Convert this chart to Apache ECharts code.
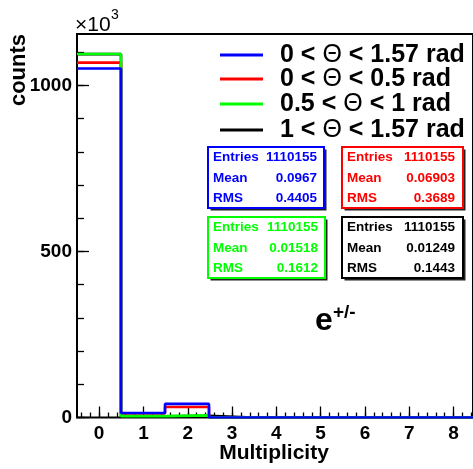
<!DOCTYPE html>
<html>
<head>
<meta charset="utf-8">
<script src="https://cdn.jsdelivr.net/npm/echarts@6/dist/echarts.min.js"></script>
<style>
  html, body { margin: 0; padding: 0; background: #fff; }
  #chart { width: 473px; height: 469px; }
</style>
</head>
<body>
<div id="chart"></div>
<script>
// Multiplicity bins (bin centres) and counts in units of 10^3
const multiplicity = [0, 1, 2, 3, 4, 5, 6, 7, 8, 9];
const thetaAll  = [1051, 13.5, 41, 0, 0, 0, 0, 0, 0, 0];   // 0 < Θ < 1.57 rad
const thetaLow  = [1069, 12, 31.5, 0, 0, 0, 0, 0, 0, 0];   // 0 < Θ < 0.5 rad
const thetaMid  = [1095, 4, 6.5, 0, 0, 0, 0, 0, 0, 0];     // 0.5 < Θ < 1 rad
const thetaHigh = [1094.5, 3.5, 5, 0, 0, 0, 0, 0, 0, 0];   // 1 < Θ < 1.57 rad

const legendLabels = ['0 < |Θ| < 1.57 rad', '0 < |Θ| < 0.5 rad', '0.5 < |Θ| < 1 rad', '1 < |Θ| < 1.57 rad'];
const seriesColors = ['#0000ff', '#ff0000', '#00ff00', '#000000'];

// Statistics boxes: entries, mean, RMS
const statEntries = ['1110155', '1110155', '1110155', '1110155'];
const statMean = ['0.0967', '0.06903', '0.01518', '0.01249'];
const statRms = ['0.4405', '0.3689', '0.1612', '0.1443'];

const yTickLabels = [0, 500, 1000];

// Histogram outline: one point per bin low edge, plus the last high edge
function stepData(counts) {
  const pts = multiplicity.map((c, i) => [c - 0.5, counts[i]]);
  pts.push([multiplicity[multiplicity.length - 1] + 0.5, counts[counts.length - 1]]);
  return pts;
}

const FONT = '"Liberation Sans", Arial, Helvetica, sans-serif';
const chart = echarts.init(document.getElementById('chart'), null, { renderer: 'canvas' });

const unit = 44.3;          // px per multiplicity unit
const plotLeft = 77;        // x of the left frame
const zeroY = 417.5;        // pixel row of zero counts
const perK = 0.332;         // px per 10^3 counts

function gridFor(xmin, xmax, ymax) {
  const left = plotLeft + (xmin + 0.5) * unit;
  const width = (xmax - xmin) * unit;
  return {
    left: left,
    width: width,
    top: zeroY - ymax * perK,
    height: ymax * perK
  };
}

const g0 = gridFor(-0.5, 8.5, 1155);
const g1 = gridFor(-0.4, 8.4, 1100);
const g2 = gridFor(0, 8, 1000);

const labelFont = { fontFamily: FONT, fontWeight: 'bold', fontSize: 19, color: '#000' };

const series = [
  { data: thetaHigh, color: seriesColors[3] },
  { data: thetaLow, color: seriesColors[1] },
  { data: thetaMid, color: seriesColors[2] },
  { data: thetaAll, color: seriesColors[0] }
].map(s => ({
  type: 'line',
  step: 'end',
  xAxisIndex: 0,
  yAxisIndex: 0,
  showSymbol: false,
  symbol: 'none',
  clip: true,
  data: stepData(s.data),
  lineStyle: { color: s.color, width: 2.6 },
  itemStyle: { color: s.color }
}));

// Legend and statistic boxes
const graphics = [];
const legendY = [55, 79, 104, 130];
legendLabels.forEach((lab, i) => {
  graphics.push({
    type: 'line',
    shape: { x1: 220, y1: legendY[i], x2: 263, y2: legendY[i] },
    style: { stroke: seriesColors[i], lineWidth: 3 }
  });
  const parts = lab.split('|');
  graphics.push({
    type: 'text',
    x: 280, y: legendY[i],
    style: {
      text: '{b|' + parts[0] + '}{t|' + parts[1] + '}{b|' + parts[2] + '}',
      rich: {
        b: { fontFamily: FONT, fontWeight: 'bold', fontSize: 25, fill: '#000' },
        t: { fontFamily: FONT, fontWeight: 'normal', fontSize: 25, fill: '#000' }
      },
      verticalAlign: 'middle',
      align: 'left'
    }
  });
});

const boxes = [
  { x: 208, y: 147, w: 116, h: 61, lx: 213, rx: 317 },
  { x: 342, y: 147, w: 121, h: 61, lx: 347, rx: 455 },
  { x: 208, y: 217, w: 117, h: 61, lx: 213, rx: 318 },
  { x: 342, y: 217, w: 121, h: 61, lx: 347, rx: 455 }
];
boxes.forEach((b, i) => {
  const col = seriesColors[i];
  graphics.push({
    type: 'rect',
    shape: { x: b.x + 2.5, y: b.y + 2.5, width: b.w, height: b.h },
    style: { fill: '#222' }
  });
  graphics.push({
    type: 'rect',
    shape: { x: b.x, y: b.y, width: b.w, height: b.h },
    style: { fill: '#fff', stroke: col, lineWidth: 2 }
  });
  const rows = [['Entries', statEntries[i]], ['Mean', statMean[i]], ['RMS', statRms[i]]];
  rows.forEach((r, k) => {
    const cy = b.y + 10.5 + k * 20.3;
    graphics.push({
      type: 'text', x: b.lx, y: cy,
      style: { text: r[0], fill: col, font: 'bold 13.5px ' + FONT, verticalAlign: 'middle', align: 'left' }
    });
    graphics.push({
      type: 'text', x: b.rx, y: cy,
      style: { text: r[1], fill: col, font: 'bold 13.5px ' + FONT, verticalAlign: 'middle', align: 'right' }
    });
  });
});

// Particle label
graphics.push({
  type: 'text', x: 315, y: 321,
  style: { text: 'e', fill: '#000', font: 'bold 32px ' + FONT, verticalAlign: 'middle', align: 'left' }
});
graphics.push({
  type: 'text', x: 333, y: 313,
  style: { text: '+/-', fill: '#000', font: 'bold 19px ' + FONT, verticalAlign: 'middle', align: 'left' }
});

// Axis titles and exponent
graphics.push({
  type: 'text', x: 274, y: 453,
  style: { text: 'Multiplicity', fill: '#000', font: 'bold 21px ' + FONT, verticalAlign: 'middle', align: 'center' }
});
graphics.push({
  type: 'text', x: 19, y: 70, rotation: Math.PI / 2,
  style: { text: 'counts', fill: '#000', font: 'bold 22px ' + FONT, verticalAlign: 'middle', align: 'center' }
});
graphics.push({
  type: 'text', x: 75, y: 25,
  style: { text: '×10', fill: '#000', font: '21px ' + FONT, verticalAlign: 'middle', align: 'left' }
});
graphics.push({
  type: 'text', x: 111, y: 15,
  style: { text: '3', fill: '#000', font: '14px ' + FONT, verticalAlign: 'middle', align: 'left' }
});

const tickStyle = { color: '#000', width: 1.3 };

const option = {
  animation: false,
  backgroundColor: '#fff',
  grid: [
    Object.assign({ show: true, borderColor: '#000', borderWidth: 2, backgroundColor: 'transparent' }, g0),
    g1,
    g2
  ],
  xAxis: [
    { type: 'value', gridIndex: 0, min: -0.5, max: 8.5, show: false },
    {
      type: 'value', gridIndex: 1, min: -0.4, max: 8.4, interval: 0.2,
      axisLine: { show: false, onZero: false },
      axisTick: { show: true, inside: true, length: 5, lineStyle: tickStyle },
      axisLabel: { show: false },
      splitLine: { show: false }
    },
    {
      type: 'value', gridIndex: 2, min: 0, max: 8, interval: 1,
      axisLine: { show: false, onZero: false },
      axisTick: { show: true, inside: true, length: 11, lineStyle: tickStyle },
      axisLabel: Object.assign({ margin: 7 }, labelFont),
      splitLine: { show: false }
    }
  ],
  yAxis: [
    { type: 'value', gridIndex: 0, min: 0, max: 1155, show: false },
    {
      type: 'value', gridIndex: 1, min: 0, max: 1100, interval: 100,
      offset: g1.left - plotLeft,
      axisLine: { show: false, onZero: false },
      axisTick: { show: true, inside: true, length: 7, lineStyle: tickStyle },
      axisLabel: { show: false },
      splitLine: { show: false }
    },
    {
      type: 'value', gridIndex: 2, min: 0, max: 1000, interval: 500,
      offset: g2.left - plotLeft,
      axisLine: { show: false, onZero: false },
      axisTick: { show: true, inside: true, length: 12, lineStyle: tickStyle },
      axisLabel: Object.assign({ margin: 5, formatter: v => (yTickLabels.indexOf(v) >= 0 ? String(v) : '') }, labelFont),
      splitLine: { show: false }
    }
  ],
  series: series,
  graphic: graphics
};

chart.setOption(option);
</script>
</body>
</html>
